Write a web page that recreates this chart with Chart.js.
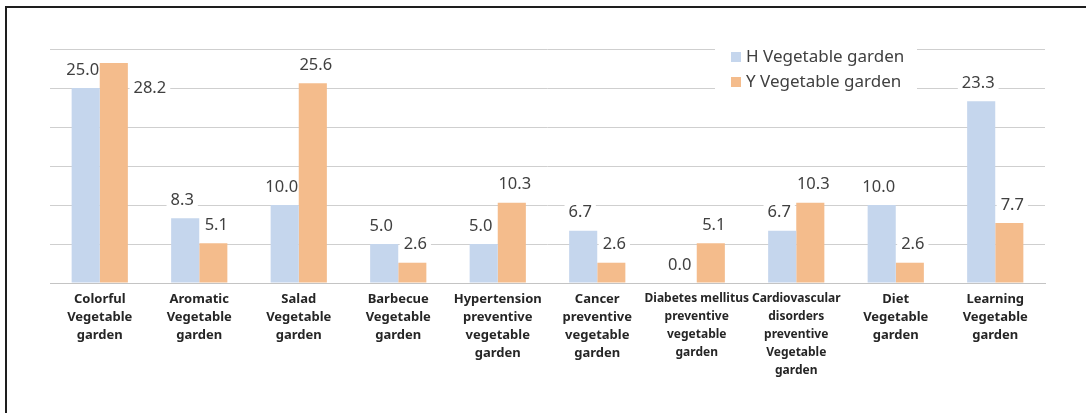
<!DOCTYPE html>
<html>
<head>
<meta charset="utf-8">
<script src="https://cdn.jsdelivr.net/npm/chart.js@4.4.0/dist/chart.umd.min.js"></script>
<style>
  html, body { margin: 0; padding: 0; background: #fff; }
  #wrap { position: relative; width: 1086px; height: 413px; overflow: hidden; }
  #frame { position: absolute; left: 5px; top: 6px; right: 0; bottom: 0;
           border-left: 2px solid #1e1e1e; border-top: 2px solid #1e1e1e; pointer-events: none; }
</style>
</head>
<body>
<div id="wrap">
  <canvas id="chart" width="1086" height="413"></canvas>
  <div id="frame"></div>
</div>
<script>
const categories = [
  ['Colorful', 'Vegetable', 'garden'],
  ['Aromatic', 'Vegetable', 'garden'],
  ['Salad', 'Vegetable', 'garden'],
  ['Barbecue', 'Vegetable', 'garden'],
  ['Hypertension', 'preventive', 'vegetable', 'garden'],
  ['Cancer', 'preventive', 'vegetable', 'garden'],
  ['Diabetes mellitus', 'preventive', 'vegetable', 'garden'],
  ['Cardiovascular', 'disorders', 'preventive', 'Vegetable', 'garden'],
  ['Diet', 'Vegetable', 'garden'],
  ['Learning', 'Vegetable', 'garden']
];
const seriesNames = ['H Vegetable garden', 'Y Vegetable garden'];
const hValues = [25.0, 8.3, 10.0, 5.0, 5.0, 6.7, 0.0, 6.7, 10.0, 23.3];
const yValues = [28.2, 5.1, 25.6, 2.6, 10.3, 2.6, 5.1, 10.3, 2.6, 7.7];
const axisMin = 0;
const axisMax = 30;
const axisStep = 5;

const FONT = '"Noto Sans", "DejaVu Sans", sans-serif';
const LABEL_FONT = '16.5px ' + FONT;

// where each value label goes: above the bar, or beside it when there is no room
function labelSpots(chart) {
  const ctx = chart.ctx, area = chart.chartArea, out = [];
  ctx.save();
  ctx.font = LABEL_FONT;
  chart.data.datasets.forEach((ds, i) => {
    chart.getDatasetMeta(i).data.forEach((bar, j) => {
      const txt = ds.data[j].toFixed(1);
      let x = bar.x + (i === 0 ? -3 : 3);
      let y = bar.y - 18;
      if (y - 10 < area.top) {
        x = bar.x + bar.width / 2 + 22;
        y = bar.y + 25;
      }
      out.push({ txt, x, y, w: ctx.measureText(txt).width + 8 });
    });
  });
  ctx.restore();
  return out;
}

const valueLabels = {
  id: 'valueLabels',
  beforeDatasetsDraw(chart) {
    // white boxes hide the gridlines behind the labels
    const ctx = chart.ctx;
    ctx.save();
    ctx.fillStyle = '#fff';
    labelSpots(chart).forEach(s => ctx.fillRect(s.x - s.w / 2, s.y - 10, s.w, 20));
    ctx.restore();
  },
  afterDatasetsDraw(chart) {
    const ctx = chart.ctx;
    ctx.save();
    ctx.font = LABEL_FONT;
    ctx.textAlign = 'center';
    ctx.textBaseline = 'middle';
    ctx.fillStyle = '#404040';
    labelSpots(chart).forEach(s => ctx.fillText(s.txt, s.x, s.y));
    ctx.restore();
  }
};

const boxLegend = {
  id: 'boxLegend',
  afterDraw(chart) {
    const ctx = chart.ctx, area = chart.chartArea;
    const x0 = area.right - 314, y0 = area.top + 8;
    ctx.save();
    ctx.fillStyle = '#fff';
    ctx.fillRect(x0 - 16, y0 - 12, 202, 56);
    ctx.font = '17px ' + FONT;
    ctx.textBaseline = 'middle';
    chart.data.datasets.forEach((ds, i) => {
      const y = y0 + i * 25;
      ctx.fillStyle = ds.backgroundColor;
      ctx.fillRect(x0, y - 5, 10, 10);
      ctx.fillStyle = '#404040';
      ctx.fillText(ds.label, x0 + 15, y);
    });
    ctx.restore();
  }
};

new Chart(document.getElementById('chart'), {
  type: 'bar',
  data: {
    labels: categories,
    datasets: [
      { label: seriesNames[0], data: hValues, backgroundColor: '#c5d6ed' },
      { label: seriesNames[1], data: yValues, backgroundColor: '#f4bc8c' }
    ]
  },
  options: {
    responsive: false,
    animation: false,
    devicePixelRatio: 1,
    layout: { padding: { left: 50, right: 41, top: 49, bottom: 0 } },
    datasets: { bar: { categoryPercentage: 0.565, barPercentage: 1.0 } },
    plugins: { legend: { display: false }, tooltip: { enabled: false } },
    scales: {
      x: {
        grid: { display: false },
        border: { display: true, color: '#c4c4c4', width: 1 },
        ticks: {
          color: '#262626',
          font: (c) => ({
            family: FONT,
            size: (c.index === 6 || c.index === 7) ? 12 : 13,
            weight: 'bold',
            lineHeight: '18px'
          }),
          padding: -1,
          autoSkip: false,
          maxRotation: 0,
          minRotation: 0
        },
        afterFit(scale) { scale.height = 130; }
      },
      y: {
        min: axisMin,
        max: axisMax,
        ticks: { display: false, stepSize: axisStep },
        grid: { color: '#cfcfcf', lineWidth: 1, drawTicks: false },
        border: { display: false },
        afterFit(scale) { scale.width = 0; }
      }
    }
  },
  plugins: [valueLabels, boxLegend]
});
</script>
</body>
</html>
